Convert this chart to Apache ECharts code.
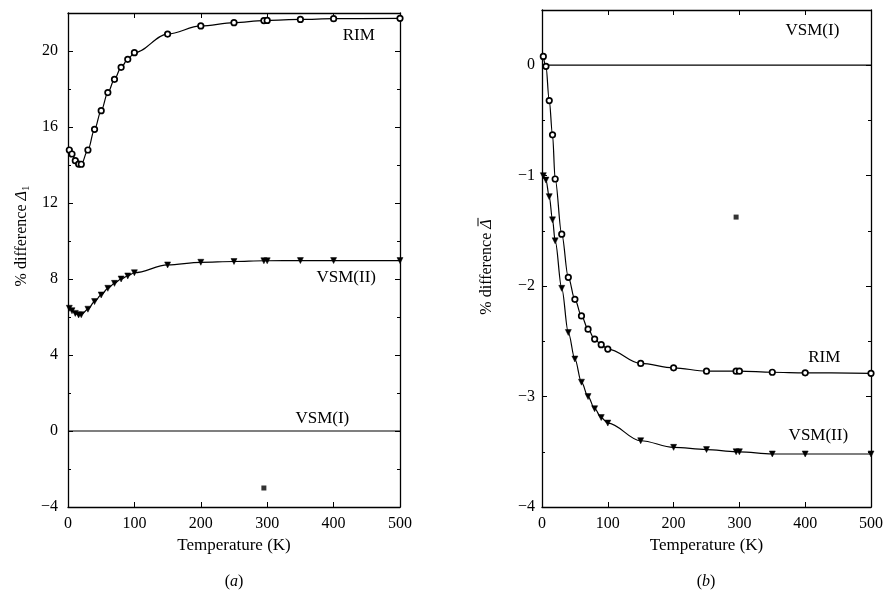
<!DOCTYPE html>
<html>
<head>
<meta charset="utf-8">
<script src="https://cdn.jsdelivr.net/npm/echarts@6/dist/echarts.min.js"></script>
<style>
  html, body { margin: 0; padding: 0; background: #fff; }
  #chart { width: 886px; height: 590px; }
</style>
</head>
<body>
<div id="chart"></div>
<script>
// Temperatures (K) at which both methods were evaluated
const temps = [2, 6, 11, 16, 20, 30, 40, 50, 60, 70, 80, 90, 100, 150, 200, 250, 295, 300, 350, 400, 500];

// Panel (a): % difference Δ1
const rimA  = [14.79, 14.58, 14.23, 14.05, 14.04, 14.79, 15.88, 16.86, 17.81, 18.51, 19.14, 19.56, 19.91, 20.89, 21.32, 21.49, 21.60, 21.61, 21.66, 21.70, 21.72];
const vsm2A = [6.46, 6.33, 6.19, 6.11, 6.12, 6.41, 6.81, 7.16, 7.51, 7.77, 8.00, 8.16, 8.33, 8.74, 8.88, 8.92, 8.96, 8.96, 8.97, 8.97, 8.97];
const vsm1A = [[0, 0], [500, 0]];
const pointA = [[295, -3.0]];

// Panel (b): % difference Δ̄
const rimB  = [0.08, -0.01, -0.32, -0.63, -1.03, -1.53, -1.92, -2.12, -2.27, -2.39, -2.48, -2.53, -2.57, -2.70, -2.74, -2.77, -2.77, -2.77, -2.78, -2.785, -2.79];
const vsm2B = [-1.00, -1.04, -1.19, -1.40, -1.59, -2.02, -2.42, -2.66, -2.87, -3.00, -3.11, -3.19, -3.24, -3.40, -3.46, -3.48, -3.50, -3.50, -3.52, -3.52, -3.52];
const vsm1B = [[0, 0], [500, 0]];
const pointB = [[295, -1.375]];

// Curve labels, anchored in data units: [T, value, text]
const labelsA = [[438, 20.84, 'RIM'], [419, 8.1, 'VSM(II)'], [383, 0.68, 'VSM(I)']];
const labelsB = [[411, 0.31, 'VSM(I)'], [429, -2.65, 'RIM'], [420, -3.35, 'VSM(II)']];

// Axis settings
const xTicks = { min: 0, max: 500, interval: 100 };
const yA = { min: -4, max: 22, interval: 4 };
const yB = { min: -4, max: 0.5, interval: 1 };

const FONT = 'Liberation Serif';
const pair = (xs, ys) => xs.map((x, i) => [x, ys[i]]);
const minus = v => String(v).replace('-', '\u2212');

const axisLineStyle = { show: true, onZero: false, lineStyle: { color: '#000', width: 1.3 } };

function xAxisPair(grid) {
  const common = {
    type: 'value', gridIndex: grid, min: xTicks.min, max: xTicks.max, interval: xTicks.interval,
    axisLine: axisLineStyle,
    axisTick: { inside: true, length: 5, lineStyle: { color: '#000' } },
    splitLine: { show: false }
  };
  return [
    Object.assign({}, common, {
      position: 'bottom',
      name: 'Temperature (K)', nameLocation: 'middle', nameGap: 30,
      nameTextStyle: { fontFamily: FONT, fontSize: 17, color: '#000' },
      axisLabel: { margin: 9, fontFamily: FONT, fontSize: 16, color: '#000' }
    }),
    Object.assign({}, common, { position: 'top', axisLabel: { show: false } })
  ];
}

function yAxisPair(grid, r, minorSplit, margin) {
  const common = {
    type: 'value', gridIndex: grid, min: r.min, max: r.max, interval: r.interval,
    axisLine: axisLineStyle,
    axisTick: { show: true, inside: true, length: 5, lineStyle: { color: '#000' } },
    minorTick: { show: true, splitNumber: minorSplit, length: 3, lineStyle: { color: '#000' } },
    splitLine: { show: false }
  };
  return [
    Object.assign({}, common, {
      position: 'left',
      axisLabel: { margin: margin, fontFamily: FONT, fontSize: 16, color: '#000', showMaxLabel: false, formatter: minus }
    }),
    Object.assign({}, common, { position: 'right', axisLabel: { show: false } })
  ];
}

const lineBase = {
  type: 'line', smooth: 0.35, smoothMonotone: 'x',
  lineStyle: { color: '#000', width: 1.2 },
  z: 3
};
const circleMark = { symbol: 'circle', symbolSize: 5.5, itemStyle: { color: '#fff', borderColor: '#000', borderWidth: 1.7 } };
const triMark = { symbol: 'triangle', symbolSize: 6, symbolRotate: 180, itemStyle: { color: '#000', borderColor: '#000', borderWidth: 0.5 } };

function panelSeries(xi, yi, rim, vsm2, vsm1, pt) {
  return [
    Object.assign({}, lineBase, circleMark, { name: 'RIM', xAxisIndex: xi, yAxisIndex: yi, data: pair(temps, rim) }),
    Object.assign({}, lineBase, triMark, { name: 'VSM(II)', xAxisIndex: xi, yAxisIndex: yi, data: pair(temps, vsm2) }),
    { type: 'line', name: 'VSM(I)', xAxisIndex: xi, yAxisIndex: yi, data: vsm1, showSymbol: false, symbol: 'none',
      lineStyle: { color: '#000', width: 1.2 } },
    { type: 'scatter', name: 'VSM(I) point', xAxisIndex: xi, yAxisIndex: yi, data: pt, symbol: 'rect', symbolSize: 5,
      itemStyle: { color: '#000' } }
  ];
}

const chart = echarts.init(document.getElementById('chart'), null, { renderer: 'canvas' });

chart.setOption({
  backgroundColor: '#fff',
  animation: false,
  grid: [
    { left: 68, right: 486, top: 13, bottom: 83 },
    { left: 542, right: 14, top: 10, bottom: 83 }
  ],
  xAxis: [...xAxisPair(0), ...xAxisPair(1)],
  yAxis: [...yAxisPair(0, yA, 2, 10), ...yAxisPair(1, yB, 2, 7)],
  series: [
    ...panelSeries(0, 0, rimA, vsm2A, vsm1A, pointA),
    ...panelSeries(2, 2, rimB, vsm2B, vsm1B, pointB)
  ]
});

// Curve labels placed via the axes' own coordinate conversion
function curveLabels(list, xi, yi) {
  return list.map(([t, v, txt]) => {
    const p = chart.convertToPixel({ xAxisIndex: xi, yAxisIndex: yi }, [t, v]);
    return { type: 'text', x: p[0], y: p[1], z: 10,
      style: { text: txt, font: '17px "' + FONT + '"', fill: '#000', align: 'center', verticalAlign: 'middle' } };
  });
}

const nameRich = {
  a: { fontFamily: FONT, fontSize: 16, lineHeight: 20, color: '#000' },
  d: { fontFamily: FONT, fontSize: 16, fontStyle: 'italic', lineHeight: 20, color: '#000' },
  s: { fontFamily: FONT, fontSize: 11, lineHeight: 20, verticalAlign: 'bottom', color: '#000' }
};

// Measure text to put the bar over Δ in the rotated axis title of panel (b)
const measure = document.createElement('canvas').getContext('2d');
measure.font = '16px "' + FONT + '"';
const wPrefix = measure.measureText('% difference ').width;
measure.font = 'italic 16px "' + FONT + '"';
const wDelta = measure.measureText('\u0394').width;
const wTotal = wPrefix + wDelta;
const barX0 = -wTotal / 2 + wPrefix + 2.5;
const barX1 = barX0 + wDelta - 1;

chart.setOption({
  graphic: [
    ...curveLabels(labelsA, 0, 0),
    ...curveLabels(labelsB, 2, 2),
    { type: 'text', x: 22, y: 236, rotation: Math.PI / 2,
      style: { text: '{a|% difference }{d|\u0394}{s|1}', rich: nameRich, align: 'center', verticalAlign: 'middle' } },
    { type: 'group', x: 487, y: 267, rotation: Math.PI / 2,
      children: [
        { type: 'text', x: 0, y: 0,
          style: { text: '{a|% difference }{d|\u0394}', rich: nameRich, align: 'center', verticalAlign: 'middle' } },
        { type: 'line', shape: { x1: barX0, y1: -9, x2: barX1, y2: -9 }, style: { stroke: '#000', lineWidth: 1 } }
      ] },
    { type: 'text', x: 234, y: 582,
      style: { text: '{a|(}{d|a}{a|)}', rich: nameRich, align: 'center', verticalAlign: 'middle' } },
    { type: 'text', x: 706, y: 582,
      style: { text: '{a|(}{d|b}{a|)}', rich: nameRich, align: 'center', verticalAlign: 'middle' } }
  ]
});
</script>
</body>
</html>
